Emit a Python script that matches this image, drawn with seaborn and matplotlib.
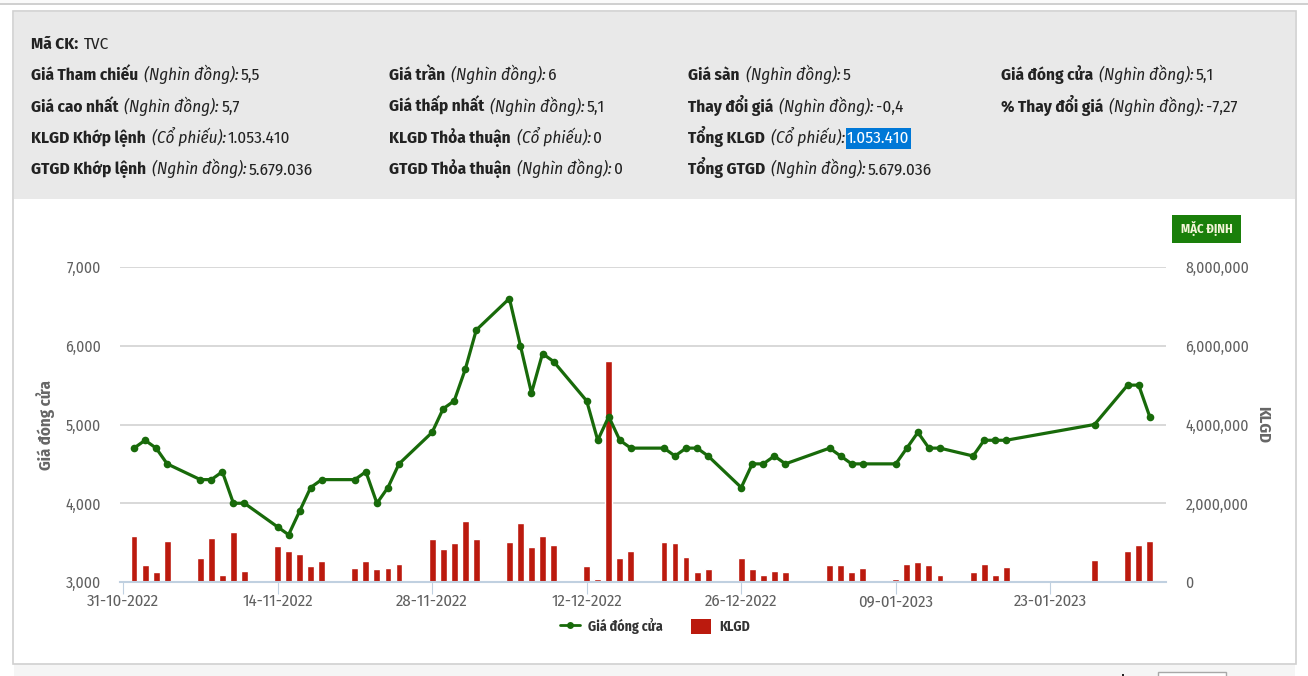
import matplotlib
matplotlib.use("Agg")
import matplotlib.dates as mdates
import matplotlib.pyplot as plt
import pandas as pd
import seaborn as sns
from matplotlib.lines import Line2D
from matplotlib.patches import Patch, Rectangle
from matplotlib.ticker import FixedLocator, FuncFormatter

W, H = 1308, 676

dates = [
    "2022-11-01", "2022-11-02", "2022-11-03", "2022-11-04",
    "2022-11-07", "2022-11-08", "2022-11-09", "2022-11-10", "2022-11-11",
    "2022-11-14", "2022-11-15", "2022-11-16", "2022-11-17", "2022-11-18",
    "2022-11-21", "2022-11-22", "2022-11-23", "2022-11-24", "2022-11-25",
    "2022-11-28", "2022-11-29", "2022-11-30", "2022-12-01", "2022-12-02",
    "2022-12-05", "2022-12-06", "2022-12-07", "2022-12-08", "2022-12-09",
    "2022-12-12", "2022-12-13", "2022-12-14", "2022-12-15", "2022-12-16",
    "2022-12-19", "2022-12-20", "2022-12-21", "2022-12-22", "2022-12-23",
    "2022-12-26", "2022-12-27", "2022-12-28", "2022-12-29", "2022-12-30",
    "2023-01-03", "2023-01-04", "2023-01-05", "2023-01-06",
    "2023-01-09", "2023-01-10", "2023-01-11", "2023-01-12", "2023-01-13",
    "2023-01-16", "2023-01-17", "2023-01-18", "2023-01-19",
    "2023-01-27", "2023-01-30", "2023-01-31", "2023-02-01",
]
close_price = [
    4700, 4800, 4700, 4500,
    4300, 4300, 4400, 4000, 4000,
    3700, 3600, 3900, 4200, 4300,
    4300, 4400, 4000, 4200, 4500,
    4900, 5200, 5300, 5700, 6200,
    6600, 6000, 5400, 5900, 5800,
    5300, 4800, 5100, 4800, 4700,
    4700, 4600, 4700, 4700, 4600,
    4200, 4500, 4500, 4600, 4500,
    4700, 4600, 4500, 4500,
    4500, 4700, 4900, 4700, 4700,
    4600, 4800, 4800, 4800,
    5000, 5500, 5500, 5100,
]
volume = [
    1180000, 420000, 250000, 1050000,
    600000, 1120000, 190000, 1260000, 290000,
    910000, 780000, 700000, 400000, 530000,
    360000, 530000, 320000, 360000, 460000,
    1080000, 840000, 980000, 1560000, 1080000,
    1010000, 1500000, 880000, 1180000, 950000,
    400000, 80000, 5620000, 600000, 800000,
    1010000, 980000, 640000, 250000, 320000,
    600000, 320000, 190000, 290000, 250000,
    420000, 420000, 250000, 350000,
    80000, 460000, 520000, 420000, 190000,
    250000, 460000, 190000, 390000,
    570000, 800000, 950000, 1053410,
]
x_ticks = ["2022-10-31", "2022-11-14", "2022-11-28", "2022-12-12",
           "2022-12-26", "2023-01-09", "2023-01-23"]
price_ticks = [3000, 4000, 5000, 6000, 7000]
volume_ticks = [0, 2000000, 4000000, 6000000, 8000000]

info_rows = [
    (31, 43, [("Mã CK:", "b"), ("TVC", "r")]),
    (31, 74, [("Giá Tham chiếu", "b"), ("(Nghìn đồng):", "i"), ("5,5", "r")]),
    (389, 74, [("Giá trần", "b"), ("(Nghìn đồng):", "i"), ("6", "r")]),
    (688, 74, [("Giá sàn", "b"), ("(Nghìn đồng):", "i"), ("5", "r")]),
    (1001, 74, [("Giá đóng cửa", "b"), ("(Nghìn đồng):", "i"), ("5,1", "r")]),
    (31, 106, [("Giá cao nhất", "b"), ("(Nghìn đồng):", "i"), ("5,7", "r")]),
    (389, 106, [("Giá thấp nhất", "b"), ("(Nghìn đồng):", "i"), ("5,1", "r")]),
    (688, 106, [("Thay đổi giá", "b"), ("(Nghìn đồng):", "i"), ("-0,4", "r")]),
    (1001, 106, [("% Thay đổi giá", "b"), ("(Nghìn đồng):", "i"), ("-7,27", "r")]),
    (31, 137, [("KLGD Khớp lệnh", "b"), ("(Cổ phiếu):", "i"), ("1.053.410", "r")]),
    (389, 137, [("KLGD Thỏa thuận", "b"), ("(Cổ phiếu):", "i"), ("0", "r")]),
    (688, 137, [("Tổng KLGD", "b"), ("(Cổ phiếu):", "i"), ("1.053.410", "h")]),
    (31, 168, [("GTGD Khớp lệnh", "b"), ("(Nghìn đồng):", "i"), ("5.679.036", "r")]),
    (389, 168, [("GTGD Thỏa thuận", "b"), ("(Nghìn đồng):", "i"), ("0", "r")]),
    (688, 168, [("Tổng GTGD", "b"), ("(Nghìn đồng):", "i"), ("5.679.036", "r")]),
]

GREEN = "#186a0a"
RED = "#bb1a0e"
GRID = "#d8d8d8"
AXIS = "#c0d0e0"
LABEL = "#606060"
FONT = ["Fira Sans Condensed", "Roboto", "DejaVu Sans"]

sns.set_theme(style="white")
plt.rcParams["font.family"] = FONT

fig = plt.figure(figsize=(W / 100, H / 100), dpi=100, facecolor="white")

# page furniture drawn in pixel coordinates
bg = fig.add_axes([0, 0, 1, 1])
bg.set_xlim(0, W)
bg.set_ylim(H, 0)
bg.axis("off")
bg.add_patch(Rectangle((0, 0), W, 3, fc="#fafafa", ec="none"))
bg.add_patch(Rectangle((0, 3), W, 1.5, fc="#d0d0d0", ec="none"))
bg.add_patch(Rectangle((14, 664), 1281, 12, fc="#f5f5f5", ec="none"))
bg.add_patch(Rectangle((13, 11), 1283, 653, fc="white", ec="#d0d0d0", lw=1.2))
bg.add_patch(Rectangle((14, 12), 1281, 187, fc="#e9e9e9", ec="none"))
bg.add_patch(Rectangle((1172, 215), 69, 28, fc="#1a7f0a", ec="none"))
bg.text(1206.5, 229, "MẶC ĐỊNH", color="#f4f4d8", fontsize=9.2, fontweight="bold",
        ha="center", va="center")
bg.add_patch(Rectangle((1158, 672), 68, 8, fc="white", ec="#a8a8a8", lw=1))
bg.add_patch(Rectangle((1122, 674), 2, 2, fc="#222222", ec="none"))

renderer = fig.canvas.get_renderer()
for x0, y0, parts in info_rows:
    x = x0
    for s, kind in parts:
        t = bg.text(x, y0 + 6, s, fontsize=12.3, va="baseline", ha="left", color="#222222",
                    fontweight="bold" if kind == "b" else "normal",
                    fontstyle="italic" if kind == "i" else "normal")
        width = t.get_window_extent(renderer).width
        if kind == "h":
            t.set_color("white")
            bg.add_patch(Rectangle((x - 1, y0 - 9), width + 2, 21, fc="#0078d7", ec="none"))
        x += width + (6 if kind == "b" else 2)

# chart: volume sits on the base axes, price on the twin so the line stays on top
ax = fig.add_axes([120 / W, 1 - 582 / H, 1046 / W, 315 / H])
ax.patch.set_alpha(0)
date_nums = mdates.date2num(pd.to_datetime(dates))
sns.barplot(x=date_nums, y=volume, native_scale=True, width=0.62, color=RED,
            saturation=1, ax=ax)

ax_price = ax.twinx()
sns.lineplot(x=date_nums, y=close_price, color=GREEN, marker="o", linewidth=2.3,
             markersize=5.5, markeredgewidth=0, errorbar=None, ax=ax_price)

day0 = mdates.date2num(pd.Timestamp(x_ticks[0]))
ax.set_xlim(day0 - 3 / 11.04, day0 + 1043 / 11.04)
ax.set_ylim(0, 8000000)
ax_price.set_ylim(3000, 7000)

ax.xaxis.set_major_locator(FixedLocator(mdates.date2num(pd.to_datetime(x_ticks))))
ax.xaxis.set_major_formatter(mdates.DateFormatter("%d-%m-%Y"))
ax.yaxis.set_major_locator(FixedLocator(volume_ticks))
ax.yaxis.set_major_formatter(FuncFormatter(lambda v, _: f"{v:,.0f}"))
ax.yaxis.tick_right()
ax_price.yaxis.set_major_locator(FixedLocator(price_ticks))
ax_price.yaxis.set_major_formatter(FuncFormatter(lambda v, _: f"{v:,.0f}"))
ax_price.yaxis.tick_left()

ax.set_axisbelow(True)
ax.grid(axis="y", color=GRID, linewidth=1.4)
ax.grid(axis="x", visible=False)
ax_price.grid(False)
ax.set_xlabel("")
ax.set_ylabel("")
ax_price.set_ylabel("")
for spine in ax.spines.values():
    spine.set_visible(False)
for spine in ax_price.spines.values():
    spine.set_visible(False)
ax.spines["bottom"].set_visible(True)
ax.spines["bottom"].set_color(AXIS)
ax.spines["bottom"].set_linewidth(1.5)

ax.tick_params(axis="x", bottom=True, length=8.6, width=0.8, color=AXIS, pad=-0.5,
               labelsize=12, labelcolor=LABEL)
ax.tick_params(axis="y", right=False, left=False, labelright=True, labelleft=False,
               pad=8, labelsize=11.3, labelcolor=LABEL)
ax_price.tick_params(axis="y", left=False, right=False, labelleft=True, labelright=False,
                     pad=8, labelsize=11.3, labelcolor=LABEL)

bg.text(46, 425, "Giá đóng cửa", rotation=90, ha="center", va="center",
        fontsize=12, fontweight="bold", color="#666666")
bg.text(1263, 425, "KLGD", rotation=270, ha="center", va="center",
        fontsize=12, fontweight="bold", color="#666666")

handles = [
    Line2D([], [], color=GREEN, marker="o", linewidth=2, markersize=5, markeredgewidth=0),
    Patch(facecolor=RED, edgecolor="none"),
]
fig.legend(handles, ["Giá đóng cửa", "KLGD"], loc="center", ncols=2,
           bbox_to_anchor=(655 / W, 1 - 626 / H), frameon=False,
           prop={"weight": "bold", "size": 10},
           labelcolor="#333333", handlelength=1.45, handleheight=1.3,
           handletextpad=0.6, columnspacing=2.0)

fig.savefig("out.png", dpi=100)
